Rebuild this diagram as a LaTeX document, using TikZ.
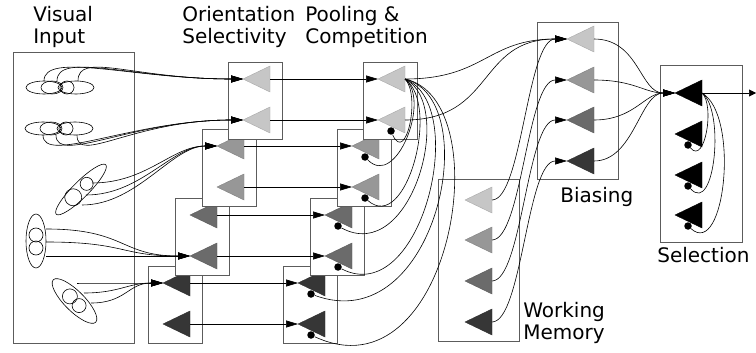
\documentclass[tikz,border=0pt]{standalone}
\usepackage{fontspec}
\setmainfont{DejaVu Sans}
\usepackage{xcolor}
\usepackage{tikz}
\usetikzlibrary{shapes.geometric, arrows.meta, positioning}

\definecolor{shadea}{HTML}{C6C6C6}
\definecolor{shadeb}{HTML}{979797}
\definecolor{shadec}{HTML}{6B6B6B}
\definecolor{shaded}{HTML}{363636}
\definecolor{shadee}{HTML}{000000}
\definecolor{framegray}{HTML}{5C5C5C}

\begin{document}
\begin{tikzpicture}[x=1pt, y=-1pt, line width=0.6pt,
  >={Triangle[length=12pt,width=7pt]},
  layer/.style={draw=framegray, fill=white, line width=0.8pt, inner sep=0pt, anchor=north west},
  unit/.style={isosceles triangle, isosceles triangle stretches, shape border rotate=180,
    minimum width=26pt, minimum height=27pt, inner sep=0pt, outer sep=0pt, anchor=apex,
    fill=#1, draw=#1!85!black, line width=0.4pt},
  inhib/.style={circle, fill=black, inner sep=0pt, minimum size=7.5pt},
  heading/.style={font=\fontsize{20}{22}\selectfont, align=left, inner sep=0pt, anchor=north west}]
\useasboundingbox (0,0) rectangle (756,353);

% Entrada visual
\node[layer, minimum width=121pt, minimum height=291pt] (visual) at (13,52) {};
\begin{scope}[shift={(60,87.5)}]
  \draw (-16,0) ellipse [x radius=18pt, y radius=6.5pt];
  \draw (16,0) ellipse [x radius=18pt, y radius=6.5pt];
  \draw (-8,0) ellipse [x radius=11pt, y radius=6.5pt];
  \draw (7,0) ellipse [x radius=7pt, y radius=6.5pt];
\end{scope}
\begin{scope}[shift={(59,128.5)}]
  \draw (-16,0) ellipse [x radius=18pt, y radius=6.5pt];
  \draw (16,0) ellipse [x radius=18pt, y radius=6.5pt];
  \draw (-8,0) ellipse [x radius=11pt, y radius=6.5pt];
  \draw (7,0) ellipse [x radius=7pt, y radius=6.5pt];
\end{scope}
\begin{scope}[shift={(81,189.5)}, rotate=45]
  \draw (0,0) ellipse [x radius=35pt, y radius=8pt];
  \draw (8,0) circle [radius=6.5pt];
  \draw (-11,0) circle [radius=8.5pt];
\end{scope}
\begin{scope}[shift={(36,241)}, rotate=90]
  \draw (0,0) ellipse [x radius=27pt, y radius=10pt];
  \draw (6,0) circle [radius=7pt];
  \draw (-7,0) circle [radius=7pt];
\end{scope}
\begin{scope}[shift={(74.5,301)}, rotate=-45]
  \draw (0,0) ellipse [x radius=30pt, y radius=10pt];
  \draw (-6.5,0) circle [radius=7.5pt];
  \draw (6.5,0) circle [radius=7pt];
\end{scope}
\coordinate (g1a) at (44,81);  \coordinate (g1b) at (57,81);  \coordinate (g1c) at (78,81);
\coordinate (g2a) at (43,135); \coordinate (g2b) at (56,135); \coordinate (g2c) at (77,135);
\coordinate (g3a) at (92,183); \coordinate (g3b) at (86,195); \coordinate (g3c) at (82,205);
\coordinate (g4a) at (46,229); \coordinate (g4b) at (46,242); \coordinate (g4c) at (46,256);
\coordinate (g5a) at (77,283); \coordinate (g5b) at (84,293); \coordinate (g5c) at (91,303);

% Selectividad de orientacion
\node[layer, minimum width=54pt, minimum height=77pt] (orient4) at (148,266) {};
\node[unit=shaded] (o4a) at ([shift={(15,17)}]orient4.north west) {};
\node[unit=shaded] (o4b) at ([shift={(15,58)}]orient4.north west) {};
\node[layer, minimum width=54pt, minimum height=77pt] (orient3) at (175,198) {};
\node[unit=shadec] (o3a) at ([shift={(15,17)}]orient3.north west) {};
\node[unit=shadec] (o3b) at ([shift={(15,58)}]orient3.north west) {};
\node[layer, minimum width=54pt, minimum height=77pt] (orient2) at (202,129) {};
\node[unit=shadeb] (o2a) at ([shift={(15,17)}]orient2.north west) {};
\node[unit=shadeb] (o2b) at ([shift={(15,58)}]orient2.north west) {};
\node[layer, minimum width=54pt, minimum height=77pt] (orient1) at (228,62) {};
\node[unit=shadea] (o1a) at ([shift={(15,17)}]orient1.north west) {};
\node[unit=shadea] (o1b) at ([shift={(15,58)}]orient1.north west) {};

% Agrupamiento y competencia
\node[layer, minimum width=54pt, minimum height=77pt] (pool4) at (283,266) {};
\node[unit=shaded] (p4a) at ([shift={(15,17)}]pool4.north west) {};
\node[unit=shaded] (p4b) at ([shift={(15,58)}]pool4.north west) {};
\node[layer, minimum width=54pt, minimum height=77pt] (pool3) at (310,198) {};
\node[unit=shadec] (p3a) at ([shift={(15,17)}]pool3.north west) {};
\node[unit=shadec] (p3b) at ([shift={(15,58)}]pool3.north west) {};
\node[layer, minimum width=54pt, minimum height=77pt] (pool2) at (337,129) {};
\node[unit=shadeb] (p2a) at ([shift={(15,17)}]pool2.north west) {};
\node[unit=shadeb] (p2b) at ([shift={(15,58)}]pool2.north west) {};
\node[layer, minimum width=54pt, minimum height=77pt] (pool1) at (363,62) {};
\node[unit=shadea] (p1a) at ([shift={(15,17)}]pool1.north west) {};
\node[unit=shadea] (p1b) at ([shift={(15,58)}]pool1.north west) {};

% Memoria de trabajo
\node[layer, minimum width=81pt, minimum height=162pt] (memory) at (438,179) {};
\node[unit=shadea] (w1) at ([shift={(27,21)}]memory.north west) {};
\node[unit=shadeb] (w2) at ([shift={(27,61)}]memory.north west) {};
\node[unit=shadec] (w3) at ([shift={(27,102)}]memory.north west) {};
\node[unit=shaded] (w4) at ([shift={(27,143)}]memory.north west) {};

% Sesgo
\node[layer, minimum width=81pt, minimum height=157pt] (bias) at (537,22) {};
\node[unit=shadea] (b1) at ([shift={(30,17)}]bias.north west) {};
\node[unit=shadeb] (b2) at ([shift={(30,58)}]bias.north west) {};
\node[unit=shadec] (b3) at ([shift={(30,98)}]bias.north west) {};
\node[unit=shaded] (b4) at ([shift={(30,139)}]bias.north west) {};

% Seleccion
\node[layer, minimum width=82pt, minimum height=177pt] (select) at (660,65) {};
\node[unit=shadee] (s1) at ([shift={(15,28)}]select.north west) {};
\node[unit=shadee] (s2) at ([shift={(15,69)}]select.north west) {};
\node[unit=shadee] (s3) at ([shift={(15,110)}]select.north west) {};
\node[unit=shadee] (s4) at ([shift={(15,150)}]select.north west) {};
\coordinate (sel-out) at (756,93);

% Inhibicion
\node[inhib] (p1b-dot) at ([shift={(13,11)}]p1b.apex) {};
\node[inhib] (p2a-dot) at ([shift={(13,11)}]p2a.apex) {};
\node[inhib] (p2b-dot) at ([shift={(13,11)}]p2b.apex) {};
\node[inhib] (p3a-dot) at ([shift={(13,11)}]p3a.apex) {};
\node[inhib] (p3b-dot) at ([shift={(13,11)}]p3b.apex) {};
\node[inhib] (p4a-dot) at ([shift={(13,11)}]p4a.apex) {};
\node[inhib] (p4b-dot) at ([shift={(13,11)}]p4b.apex) {};
\node[inhib] (s2-dot) at ([shift={(13,11)}]s2.apex) {};
\node[inhib] (s3-dot) at ([shift={(13,11)}]s3.apex) {};
\node[inhib] (s4-dot) at ([shift={(13,11)}]s4.apex) {};

% Titulos
\node[heading] (visual-title) at (33,6) {Visual\\Input};
\node[heading] (orient-title) at (182,6) {Orientation\\Selectivity};
\node[heading] (pool-title) at (305,6) {Pooling \&\\Competition};
\node[heading] (bias-title) at (560,187.5) {Biasing};
\node[heading] (memory-title) at (523,302.5) {Working\\Memory};
\node[heading] (select-title) at (657,247.5) {Selection};

% Conexiones
\draw[->] (g1a) .. controls +(0,-30) and +(-110,0) .. (o1a.apex);
\draw[->] (g1b) .. controls +(0,-30) and +(-110,0) .. (o1a.apex);
\draw[->] (g1c) .. controls +(0,-30) and +(-110,0) .. (o1a.apex);
\draw[->] (g2a) .. controls +(0,30) and +(-110,0) .. (o1b.apex);
\draw[->] (g2b) .. controls +(0,30) and +(-110,0) .. (o1b.apex);
\draw[->] (g2c) .. controls +(0,30) and +(-110,0) .. (o1b.apex);
\draw[->] (g3a) .. controls +(55,0) and +(-45,0) .. (o2a.apex);
\draw[->] (g3b) .. controls +(55,0) and +(-45,0) .. (o2a.apex);
\draw[->] (g3c) .. controls +(55,0) and +(-45,0) .. (o2a.apex);
\draw[->] (g4a) .. controls +(80,0) and +(-70,0) .. (o3b.apex);
\draw[->] (g4b) .. controls +(80,0) and +(-70,0) .. (o3b.apex);
\draw[->] (g4c) -- (o3b.apex);
\draw[->] (g5a) .. controls +(35,0) and +(-35,0) .. (o4a.apex);
\draw[->] (g5b) .. controls +(35,0) and +(-35,0) .. (o4a.apex);
\draw[->] (g5c) .. controls +(35,0) and +(-35,0) .. (o4a.apex);

\draw[->] (o1a.east) -- (p1a.apex);
\draw[->] (o1b.east) -- (p1b.apex);
\draw[->] (o2a.east) -- (p2a.apex);
\draw[->] (o2b.east) -- (p2b.apex);
\draw[->] (o3a.east) -- (p3a.apex);
\draw[->] (o3b.east) -- (p3b.apex);
\draw[->] (o4a.east) -- (p4a.apex);
\draw[->] (o4b.east) -- (p4b.apex);

\draw (p1a.east) .. controls +(16,16) and +(15,34) .. (p1b-dot);
\draw (p1a.east) .. controls +(26,21) and +(31,32) .. (p2a-dot);
\draw (p1a.east) .. controls +(36,26) and +(41,36) .. (p2b-dot);
\draw (p1a.east) .. controls +(51,26) and +(73,40) .. (p3a-dot);
\draw (p1a.east) .. controls +(66,26) and +(83,43) .. (p3b-dot);
\draw (p1a.east) .. controls +(81,21) and +(125,46) .. (p4a-dot);
\draw (p1a.east) .. controls +(96,21) and +(140,65) .. (p4b-dot);

\draw[->] (p1a.east) .. controls +(80,0) and +(-80,0) .. (b1.apex);
\draw[->] (p1b.east) .. controls +(90,0) and +(-90,0) .. (b1.apex);
\draw[->] (w1.east) .. controls +(30,0) and +(-40,0) .. (b1.apex);
\draw[->] (w2.east) .. controls +(30,0) and +(-40,0) .. (b2.apex);
\draw[->] (w3.east) .. controls +(30,0) and +(-40,0) .. (b3.apex);
\draw[->] (w4.east) .. controls +(30,0) and +(-40,0) .. (b4.apex);

\draw[->] (b1.east) .. controls +(45,0) and +(-35,0) .. (s1.apex);
\draw[->] (b2.east) .. controls +(40,0) and +(-30,0) .. (s1.apex);
\draw[->] (b3.east) .. controls +(40,0) and +(-30,0) .. (s1.apex);
\draw[->] (b4.east) .. controls +(40,0) and +(-35,0) .. (s1.apex);

\draw (s1.east) .. controls +(13,12) and +(17,20) .. (s2-dot);
\draw (s1.east) .. controls +(23,17) and +(27,29) .. (s3-dot);
\draw (s1.east) .. controls +(38,22) and +(37,33) .. (s4-dot);
\draw[-{Triangle[length=7pt,width=7pt]}] (s1.east) -- (sel-out);
\end{tikzpicture}
\end{document}
